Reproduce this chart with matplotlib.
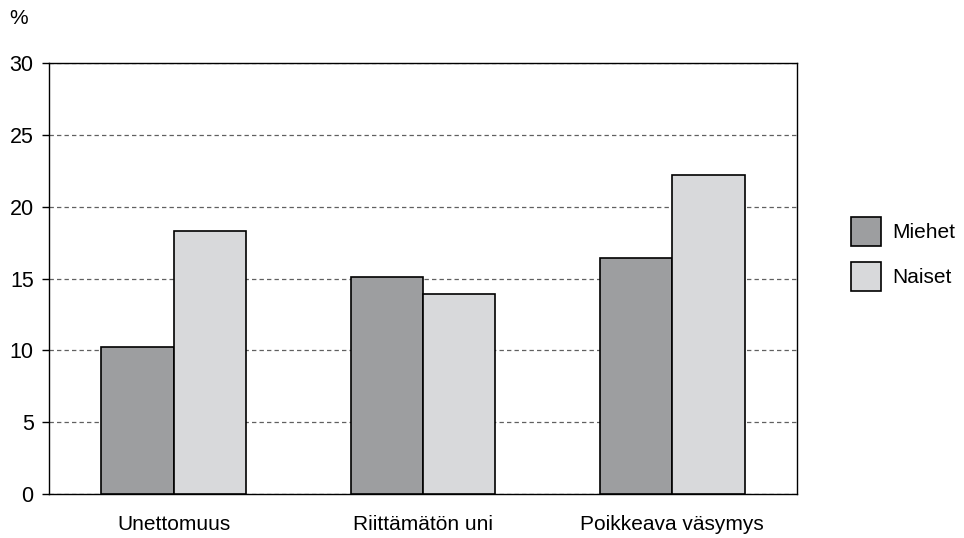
import numpy as np
import matplotlib
matplotlib.use('Agg')
import matplotlib.pyplot as plt
from matplotlib.patches import Patch

categories = ['Unettomuus', 'Riittämätön uni', 'Poikkeava väsymys']
series_names = ['Miehet', 'Naiset']
miehet = [10.2, 15.1, 16.4]
naiset = [18.3, 13.9, 22.2]
yticks = [0, 5, 10, 15, 20, 25, 30]

plt.rcParams['font.family'] = ['Liberation Sans', 'DejaVu Sans']

fig = plt.figure(figsize=(9.64, 5.38), dpi=100)
ax = fig.add_axes([0.0508, 0.0818, 0.776, 0.801])

x = np.arange(len(categories))
w = 0.29
colors = ['#9d9ea0', '#d8d9db']
ax.bar(x - w / 2, miehet, w, color=colors[0], edgecolor='black', linewidth=1.2, zorder=3)
ax.bar(x + w / 2, naiset, w, color=colors[1], edgecolor='black', linewidth=1.2, zorder=3)

ax.set_xlim(-0.5, 2.5)
ax.set_ylim(0, 30)
ax.set_yticks(yticks)
ax.set_yticklabels([str(v) for v in yticks], fontsize=15.5)
ax.set_xticks(x)
ax.set_xticklabels(categories, fontsize=15)
ax.tick_params(axis='x', length=0, pad=15)
ax.tick_params(axis='y', length=5, width=1, pad=6)
ax.yaxis.grid(True, linestyle=(0, (3.5, 2.5)), color='#606060', linewidth=0.9, zorder=0)
for s in ax.spines.values():
    s.set_linewidth(1.0)

fig.text(0.010, 0.965, '%', fontsize=15, ha='left', va='center')

handles = [Patch(facecolor=c, edgecolor='black', linewidth=1.2) for c in colors]
fig.legend(handles, series_names, loc='center left', bbox_to_anchor=(0.872, 0.528),
           frameon=False, fontsize=15, handlelength=1.45, handleheight=1.75,
           handletextpad=0.55, labelspacing=0.75, borderpad=0)

fig.savefig('out.png', dpi=100)
